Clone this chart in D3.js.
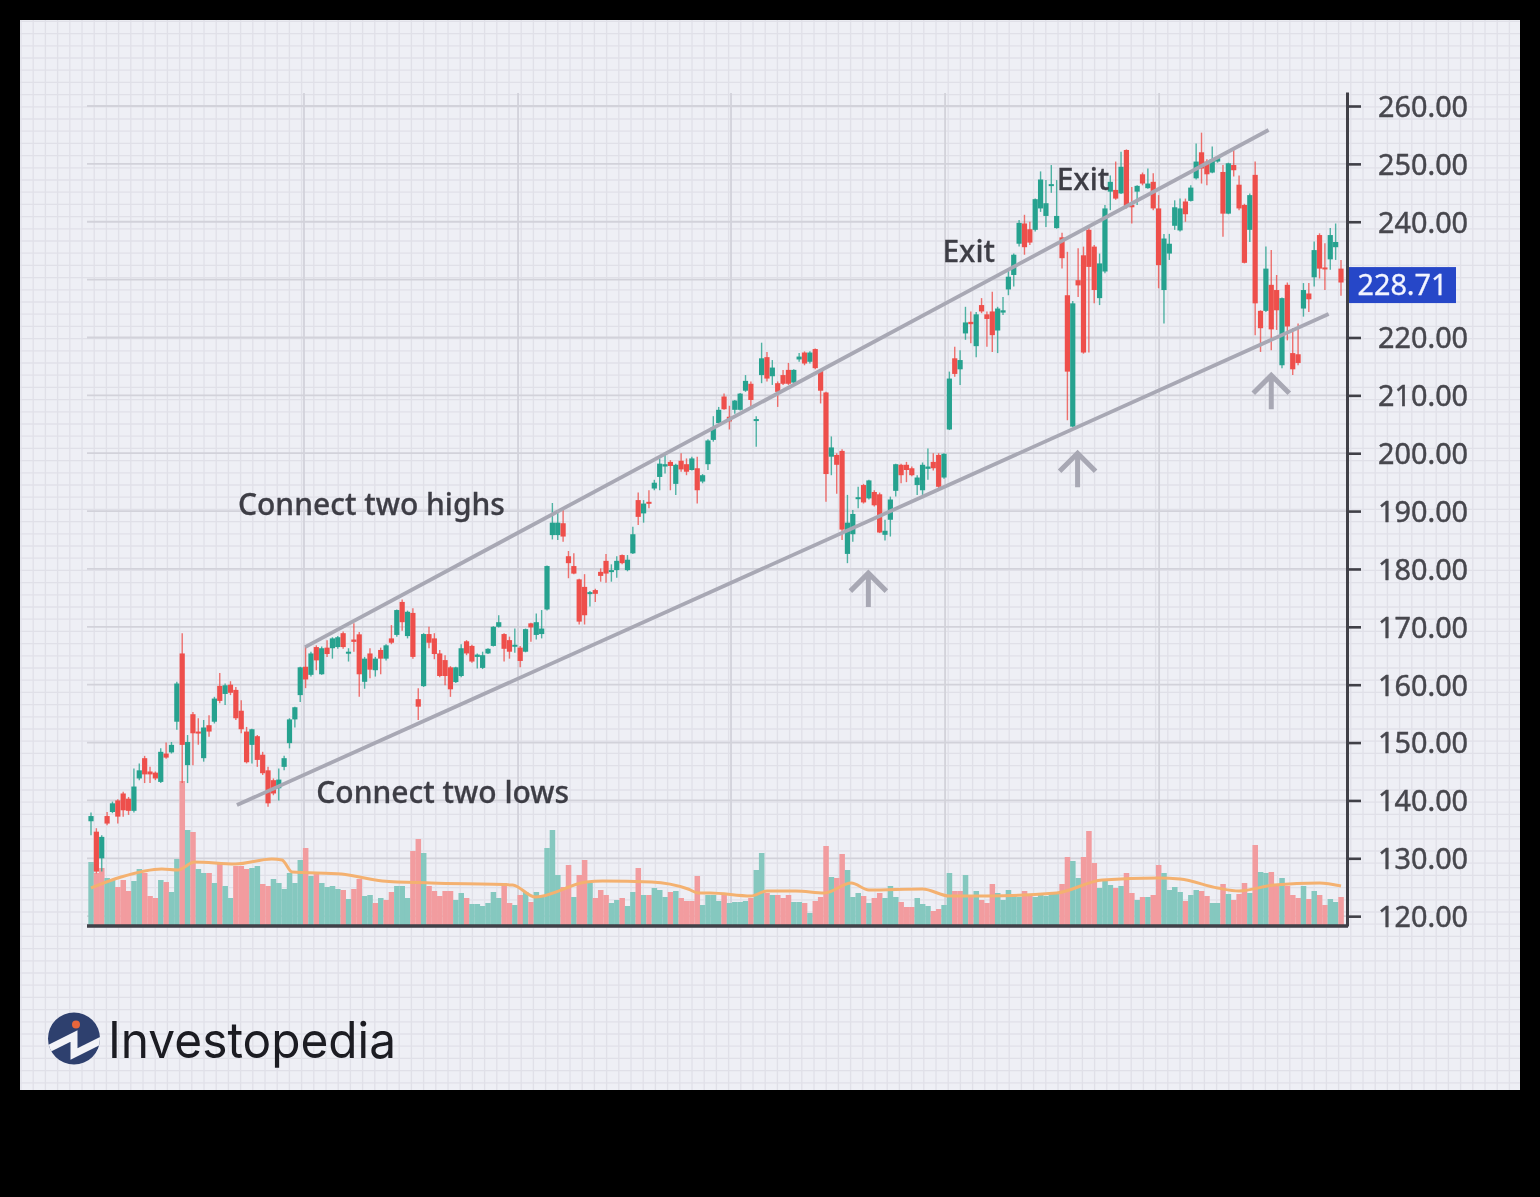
<!DOCTYPE html>
<html>
<head>
<meta charset="utf-8">
<title>Trend channel</title>
<script src="https://cdn.jsdelivr.net/npm/d3@7"></script>
<style>
  html, body { margin: 0; background: #000; }
  svg { display: block; }
  text { font-family: "Noto Sans", sans-serif; }
</style>
</head>
<body>
<div id="chart"></div>
<script>
// velas, 10 por línea
const opens = [
  136.4,134.6,130,137.3,138,140,141.2,140.3,138.2,143.8,
  147.3,145,144.8,143.2,148.1,148.3,153.6,165.4,146.1,154.9,
  151.9,147.3,153,153.6,159.8,158.4,160,159.1,155.5,151.9,
  149.6,151.1,147.9,145.2,143.5,142.1,145.8,149.9,154,158.2,
  163.1,161.7,166.5,161.8,166.4,166.3,166.5,168.9,165.5,167.8,
  168.7,160.5,165.4,162.5,166,164.5,168,168.6,174.3,168.4,
  172.4,157.5,159.75,168.75,168,165.4,164.25,163,160.45,161.5,
  167.5,166.7,164.8,162.9,165.4,166.7,170,168.75,167.7,166.7,
  166.4,165.7,170.6,168.6,168.75,173,185.85,185.85,187.9,182.2,
  180.5,178.2,176.9,175.8,176.35,179.5,181.4,179.5,179.8,182.4,
  179.8,182.7,191.9,189.6,191.6,193.9,195.9,197.7,198.5,194.7,
  198.7,198.1,197.1,197.4,195.1,198.1,202.3,205.2,209.8,206.3,
  207.5,207.5,210.8,212,205.6,213.5,216.6,213.3,212.1,213.5,
  214.4,212.2,216.2,217.4,215.8,218,214.3,210.5,199.4,199.7,
  200.4,182.6,186,192.1,194.5,192.2,193.3,192.9,185.9,188.5,
  193.5,198,198,197.4,194.5,193.6,197.3,198.5,199.7,195.8,
  204.1,216.4,214.5,220.7,222.7,218.5,225.6,224,224.5,221.2,
  224.3,228.3,230.8,236.2,239.7,238.7,238.6,242.3,241,246.2,
  238.9,237.3,227.3,204.6,229.9,234.2,238.6,235.7,226.8,231.4,
  245.2,245.5,244.9,252.4,242.9,245.2,248.2,245.8,246.9,242.3,
  228.2,234.5,239.3,238.5,243.5,243.6,247.5,252,250.4,248.5,
  250.4,248.6,241.4,249.8,246.4,242.9,238.6,248.1,224.6,224.6,
  229.1,228.2,215.2,229.1,217.3,217.1,225,227.6,230.4,237.7,
  232.1,233.5,235.6,231.9
];
const highs = [
  137.9,135.2,134,138,139.8,140.2,141.5,140.6,145.5,146.4,
  147.7,145.8,145,149,150,150.1,160.5,168.9,151.3,155.3,
  154.2,153.9,154.7,157.9,162,160.2,160.6,159.6,157.3,152.7,
  152.4,151.3,148.4,145.8,143.8,145.5,147.7,154.2,156.2,163.1,
  166.6,165.7,166.8,166.6,167.7,168.2,168.4,169.2,166.3,170.6,
  169.1,164.8,166.3,164.8,166.4,167,170.3,173,174.7,172.8,
  173.2,159.4,168.9,170,168.9,166,165.1,163.2,163.1,167,
  167.7,166.9,165.4,165.7,166.3,170.1,172,168.9,168.3,169.7,
  166.7,169.7,170.7,172.3,172.9,180.6,191.4,190.2,190.2,183.1,
  182.7,178.3,179.1,176.2,176.6,180.1,182.6,180.8,182.2,182.5,
  182.4,187.3,193.2,191.9,193.6,195.4,199.1,199.7,198.8,198.2,
  200,199.1,199.4,199.4,196.4,202.4,206.4,208,210.3,208.2,
  209.2,210.4,213.5,212.4,206.4,219.1,217.5,216.1,212.4,214.4,
  215.6,214.5,217.3,217.6,217.6,218.1,214.5,210.6,202.9,200,
  200.7,192.8,190.2,194.2,194.7,195.4,193.6,193.2,188.5,192.5,
  198.2,198.2,198.5,197.7,196.2,198.4,200.8,200,200,200,
  214.1,218.4,217.8,225.3,224.5,224.4,226.8,224.5,227.9,225.3,
  227,231.9,234.5,240.3,241.2,240,244,248.7,247.2,249.8,
  247.2,238.1,234.8,226.3,235.4,235.7,238.9,236,234.5,242.9,
  248,250.4,252.1,252.5,246,246.3,248.5,249.2,248.4,244.6,
  237.9,237.9,243.7,244,244,246.3,253.5,255.4,250.8,253,
  251.1,249.8,250.2,252.4,248,243.1,244.9,250.4,224.7,235.7,
  235.1,230.8,226.9,229.5,221.6,222.4,229.4,229.4,236.6,238,
  236.3,238.9,239.7,233.4
];
const lows = [
  134,127.4,127.7,135.7,137.8,136,137.2,137.5,137.9,143.5,
  143,143,143.5,143,147.2,148.1,152.2,143,143,146.1,
  149.6,146.7,151,153.3,156.8,156.5,158.2,153.9,151.6,146.4,
  146.4,145.8,144.4,138.9,140.9,140,145.2,149,152.6,157,
  159.4,161.4,162.5,161.7,164.8,164.5,166.2,166.2,164,165.7,
  157.9,159.3,161.1,161.4,161.8,164.2,167,168.3,169.3,168,
  164.5,153.9,159.6,166.3,164.4,161.3,159.9,157.9,160.3,161.3,
  165.1,163.8,162.8,162.7,165.3,166.6,169.9,164,164.5,165.5,
  163,165.6,167.4,167.8,168,172.8,185.1,185,184.7,178.4,
  179.1,170.4,170.4,173.5,174.3,177.8,177.6,177.8,178.5,180.8,
  179.6,182.6,187.6,188,190.5,193.6,193.6,196.5,193.6,192.8,
  196.8,196.2,197,191.3,194.8,197.1,202,205.1,207.5,204.1,
  206.8,207.4,210.6,208,201.1,212.1,212.4,211.8,208,211.8,
  211.8,211.8,215.8,215.2,215.5,214.5,208.6,191.6,196.2,193,
  185,181,184.7,190.5,191.3,192,190.8,186.2,184.9,185.6,
  192.5,194.8,195,196,192.8,192.8,195.4,197,193.6,195.6,
  204,213.2,211.8,219.6,219,216.6,224.2,218.4,217.5,217.3,
  223.9,227.3,228.8,235.7,234.3,236,238.3,241.7,239.1,245,
  238.8,231.9,205.7,204.5,227,217.2,217.4,225.9,225.6,231.1,
  242,243.8,244.8,242.3,239.7,242.9,246.3,245.7,242,228.5,
  222.4,233.4,238.6,238.3,240,243.5,247.3,246.6,246.3,248.4,
  250.2,237.4,241.3,247.8,242,232.8,236.5,220.4,217.5,224.4,
  217.8,221.3,214.7,219.5,213.5,215.2,223.6,224.4,228.8,230.2,
  228.2,231.7,233.4,227.2
];
const closes = [
  137.3,127.7,133.7,136,139.5,137.2,138.3,138.2,142.4,145.2,
  144.5,144.5,143.8,148.4,147.4,149.6,160.2,149.6,150.1,151.6,
  151.6,152.6,151.9,157.6,157.2,159.9,158.6,154.2,152.3,146.6,
  152.3,147,144.7,139.5,141.2,143.6,147.3,154,156.1,163,
  160.9,165.4,164.2,166.3,165.3,168,168.2,166.5,165.7,167.4,
  161.8,164.5,162.6,164.5,164.5,166.8,167.25,172.9,170.8,172.6,
  164.8,156.2,168.75,167.25,165.3,161.5,161.5,159.2,163,166.3,
  165.4,164,165.2,165.1,166.2,170,170.8,166.2,165.7,166.9,
  164.1,169.6,169.9,170.8,169.7,180.5,188,188,185.6,181,
  179.2,170.9,172,176,175.7,178.8,179.2,179.8,181.4,181,
  181.6,186,189,191.3,191.3,194.9,198.2,198.1,197.8,198,
  197.2,196.8,199.1,193.6,196.2,202.2,204.5,207.5,207.6,205.5,
  209.1,210.3,212.5,209.2,205.9,216.4,212.9,214.8,210.6,212,
  212,214.4,216.7,215.5,217.4,214.7,210.8,196.4,201,198,
  186.8,188,189.5,192.4,191.5,195.3,191,186.3,186.6,192,
  198.1,196.2,197.1,196.2,195.8,198,197.7,197.4,194.2,199.9,
  212.9,213.7,216.1,222.6,222.3,224,224.5,223.2,220.4,225,
  224.7,230.5,234.3,239.8,235.6,236.4,243.9,247.3,243.2,246.5,
  241,233.7,214.1,225.9,229,217.4,232.2,228.2,232.8,242.3,
  246.9,244,249.5,242.6,242.5,246.2,246.6,246.6,242.3,232.5,
  237.1,236.2,242.5,242.3,241.3,245.9,250.4,249.2,248.2,250.8,
  251,241.4,250.1,248.9,242.3,232.9,244.6,225.9,221.6,231.9,
  221.4,224.7,226.8,221.9,214.5,215.6,228.2,226.6,235.1,231.9,
  231.8,237.7,236.5,229.5
];

// volumen, en la misma escala del panel inferior
const volumes = [
  64,53,58,48,47,39,46,35,45,57,
  53,30,28,46,44,34,67,145,96,94,
  57,53,53,43,62,40,28,60,60,57,
  58,60,42,40,47,43,37,53,43,66,
  78,50,52,43,39,40,37,36,27,37,
  47,30,31,23,28,26,34,40,40,28,
  75,87,73,40,35,30,35,35,26,33,
  28,22,22,20,23,34,28,43,23,21,
  31,34,24,34,29,78,96,51,39,61,
  29,51,66,43,28,36,31,23,26,28,
  20,34,58,31,31,38,36,29,34,35,
  28,25,25,50,21,31,31,25,31,23,
  24,24,25,28,56,73,33,31,31,28,
  31,24,24,23,13,25,29,80,49,48,
  72,56,29,33,30,23,28,33,28,40,
  29,24,19,19,28,22,20,15,17,21,
  53,35,35,51,29,35,26,23,42,33,
  26,36,31,29,35,30,29,32,30,32,
  33,42,69,65,48,69,95,63,38,45,
  41,38,40,53,33,26,29,29,31,61,
  53,36,39,34,25,31,36,35,30,23,
  23,42,32,26,32,43,33,81,54,53,
  54,41,48,40,31,28,40,27,35,31,
  21,27,24,29
];
const volumeSides = (
  'grrggrrrgg' + 'rrrgrggrgr' + 'ggrgrggrrr' + 'ggrrgggggg' + 'rgrggggrgr' +
  'rggrgrrggg' + 'rrgrrrrrgg' + 'rggggggrrg' + 'rgrgggggrr' + 'grrgrrrggr' +
  'ggrgrgggrg' + 'rrrrggggrg' + 'gggrggrgrr' + 'rggrgrrrgr' + 'rgggrgrrgg' +
  'grrrgggrrg' + 'grrgrgrrrg' + 'ggggrrgggg' + 'grrggrrrgg' + 'grgrrgrgrr' +
  'ggggrggrrg' + 'grgrrrgrgg' + 'rrgrrrgrgr' + 'rggr'
).split('');

// media móvil del volumen: índice de vela y valor
const maIndex = [0,5.6,13.2,16.2,19.3,26.9,33.7,35.6,37.5,46.7,54.3,63.4,78.6,82.8,92.3,95.4,104.5,111.3,113.2,115.4,123,126,131.4,136.7,141.7,145,155,160,167,180,188.5,199,203,210,214,220.5,229,233];
const maValues = [38,49,57,56,64,62,67,66,54,52,45,43,41,29,44,45,44,37,33,33,30,35,35,33,43,36,37,30,30,33,46,48,47,38,35,41,43,40];

const priceTicks = [260,250,240,230,220,210,200,190,180,170,160,150,140,130,120];
const tickLabels = priceTicks.filter(p => p !== 230);
const lastPrice = 228.71;
const verticalGrid = [39.7,79.6,119.3,159.2,199.1];

// canales y flechas en (índice, precio)
const highsLine = [[39.9,166.5],[219.5,255.85]];
const lowsLine = [[27.2,139.2],[230.7,224.05]];
const arrowIndex = [144.9,183.9,220];
const arrowPrice = [179.8,200.5,214];

const noteTexts = ['Connect two highs','Connect two lows','Exit','Exit'];
const noteIndex = [27.4,42,158.7,180];
const notePrice = [189.4,139.55,233.1,245.5];

const RED = '#ee4f4b', GREEN = '#27a28f';
const VOL_RED = '#f29c9f', VOL_GREEN = '#85c8bf';
const LINE_GRAY = '#a8a8b4', INK = '#3f3f47';

const W = 1540, H = 1197;
const x = d3.scaleLinear().domain([0, opens.length - 1]).range([91, 1341]);
const y = d3.scaleLinear().domain([118.3, 262.42]).range([926, 92]);
const vol = d3.scaleLinear().domain([0, 100]).range([926, 826]);

const svg = d3.select('#chart').append('svg').attr('width', W).attr('height', H);
const defs = svg.append('defs');
defs.append('filter').attr('id', 'soft').append('feGaussianBlur').attr('stdDeviation', 0.7);
defs.append('clipPath').attr('id', 'logo-clip').append('circle').attr('cx', 74).attr('cy', 1038.5).attr('r', 26);

svg.append('rect').attr('width', W).attr('height', H).attr('fill', '#000');
const page = svg.append('g').attr('filter', 'url(#soft)');
page.append('rect').attr('x', 20).attr('y', 20).attr('width', 1500).attr('height', 1070).attr('fill', '#eeeff5');

// cuadrícula fina de la página
const minor = page.append('g').attr('stroke', '#e0e0e8').attr('stroke-width', 1.3);
minor.selectAll('line.v').data(d3.range(21, 1520, 12.2)).join('line').attr('class', 'v')
  .attr('x1', d => d).attr('x2', d => d).attr('y1', 20).attr('y2', 1090);
minor.selectAll('line.h').data(d3.range(21.4, 1090, 12.2)).join('line').attr('class', 'h')
  .attr('y1', d => d).attr('y2', d => d).attr('x1', 20).attr('x2', 1520);

// cuadrícula mayor
const major = page.append('g').attr('stroke', '#d2d2da').attr('stroke-width', 1.8);
major.selectAll('line.h').data(priceTicks).join('line').attr('class', 'h')
  .attr('x1', 87).attr('x2', 1347).attr('y1', d => y(d)).attr('y2', d => y(d));
major.selectAll('line.v').data(verticalGrid).join('line').attr('class', 'v')
  .attr('x1', d => x(d)).attr('x2', d => x(d)).attr('y1', 93).attr('y2', 926);

// volumen
const step = x(1) - x(0);
page.append('g').selectAll('rect').data(volumes).join('rect')
  .attr('x', (d, i) => x(i) - step / 2)
  .attr('width', step + 0.15)
  .attr('y', d => vol(d))
  .attr('height', d => vol(0) - vol(d))
  .attr('fill', (d, i) => volumeSides[i] === 'r' ? VOL_RED : VOL_GREEN);

page.append('path')
  .datum(maIndex.map((d, i) => [d, maValues[i]]))
  .attr('fill', 'none').attr('stroke', '#f4b170').attr('stroke-width', 3)
  .attr('d', d3.line().x(d => x(d[0])).y(d => vol(d[1])).curve(d3.curveMonotoneX));

// velas
const candleColor = i => closes[i] >= opens[i] ? GREEN : RED;
const candles = page.append('g').selectAll('g').data(opens).join('g');
candles.append('line')
  .attr('x1', (d, i) => x(i)).attr('x2', (d, i) => x(i))
  .attr('y1', (d, i) => y(highs[i])).attr('y2', (d, i) => y(lows[i]))
  .attr('stroke', (d, i) => candleColor(i)).attr('stroke-width', 1.4).attr('stroke-opacity', 0.8);
candles.append('rect')
  .attr('x', (d, i) => x(i) - 2.6).attr('width', 5.2)
  .attr('y', (d, i) => y(Math.max(opens[i], closes[i])))
  .attr('height', (d, i) => Math.max(2, Math.abs(y(opens[i]) - y(closes[i]))))
  .attr('fill', (d, i) => candleColor(i));

// canal
const priceLine = d3.line().x(d => x(d[0])).y(d => y(d[1]));
[highsLine, lowsLine].forEach(seg => {
  page.append('path').attr('d', priceLine(seg))
    .attr('stroke', LINE_GRAY).attr('stroke-width', 3.8).attr('fill', 'none');
});

// flechas
arrowIndex.forEach((d, i) => {
  const ax = x(d), ay = y(arrowPrice[i]);
  page.append('path')
    .attr('d', `M${ax},${ay + 37}V${ay + 2}M${ax - 18},${ay + 21}L${ax},${ay + 3}L${ax + 18},${ay + 21}`)
    .attr('fill', 'none').attr('stroke', LINE_GRAY).attr('stroke-width', 5);
});

// eje de precios
const axis = page.append('g').attr('transform', 'translate(1347,0)')
  .call(d3.axisRight(y).tickValues(tickLabels).tickSize(14).tickSizeOuter(0).tickPadding(17).tickFormat(d3.format('.2f')));
axis.select('.domain').attr('stroke', INK).attr('stroke-width', 3);
axis.selectAll('.tick line').attr('stroke', INK).attr('stroke-width', 2.6);
axis.selectAll('.tick text').attr('font-family', '"Noto Sans", sans-serif').attr('font-size', 28.8)
  .attr('fill', '#47474e').attr('stroke', '#47474e').attr('stroke-width', 0.45).attr('dy', '0.36em');

page.append('line').attr('x1', 87).attr('x2', 1348).attr('y1', 926).attr('y2', 926)
  .attr('stroke', INK).attr('stroke-width', 3.4);

// etiqueta del último precio
const badgeY = y(lastPrice) - 2;
page.append('rect').attr('x', 1349).attr('y', badgeY - 18).attr('width', 107).attr('height', 36).attr('fill', '#2747c8');
page.append('text').attr('x', 1402.5).attr('y', badgeY + 10).attr('text-anchor', 'middle')
  .attr('font-size', 28.8).attr('fill', '#f2f4ff').attr('stroke', '#f2f4ff').attr('stroke-width', 0.3)
  .text(d3.format('.2f')(lastPrice));

// anotaciones
page.append('g').selectAll('text').data(noteTexts).join('text')
  .attr('x', (d, i) => x(noteIndex[i]))
  .attr('y', (d, i) => y(notePrice[i]))
  .attr('font-size', 30).attr('font-weight', 500).attr('fill', '#3d3d45').attr('stroke', '#3d3d45').attr('stroke-width', 0.3)
  .text(d => d);

// logotipo
const logo = page.append('g');
logo.append('circle').attr('cx', 74).attr('cy', 1038.5).attr('r', 26).attr('fill', '#2d3f6e');
logo.append('path').attr('clip-path', 'url(#logo-clip)')
  .attr('d', 'M46,1050L74,1036V1054L102,1040')
  .attr('fill', 'none').attr('stroke', '#f2f3f8').attr('stroke-width', 7).attr('stroke-linejoin', 'miter');
logo.append('circle').attr('cx', 76).attr('cy', 1024.5).attr('r', 4).attr('fill', '#e8663a');
logo.append('text').attr('x', 108).attr('y', 1058)
  .attr('font-size', 50).attr('fill', '#1b1b23')
  .attr('textLength', 288).attr('lengthAdjust', 'spacingAndGlyphs')
  .style('font-family', 'Inter, sans-serif')
  .text('Investopedia');
</script>
</body>
</html>
